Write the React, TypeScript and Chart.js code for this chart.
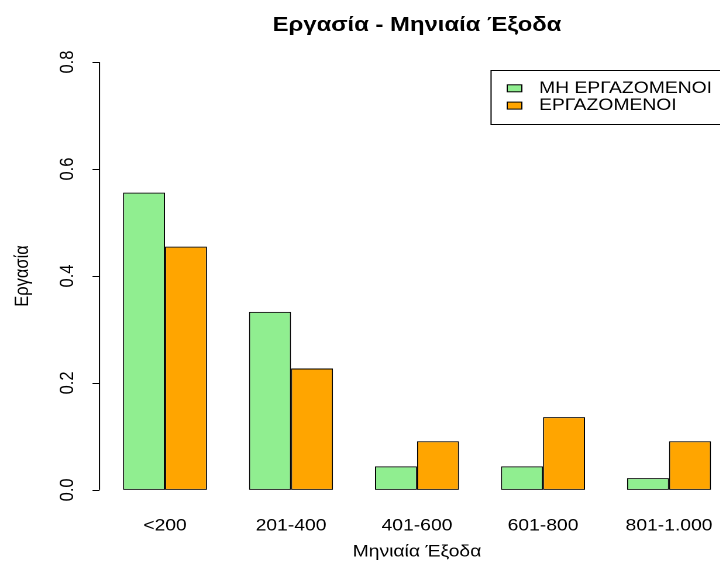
import React, { useEffect, useRef } from "react";
import { Chart, registerables } from "chart.js";

Chart.register(...registerables);

const categories = ["<200", "201-400", "401-600", "601-800", "801-1.000"];
const nonWorking = [0.556, 0.333, 0.044, 0.044, 0.022];
const working = [0.455, 0.227, 0.091, 0.136, 0.091];
const seriesLabels = ["ΜΗ ΕΡΓΑΖΟΜΕΝΟΙ", "ΕΡΓΑΖΟΜΕΝΟΙ"];
const yTicks = [0, 0.2, 0.4, 0.6, 0.8];
const chartTitle = "Εργασία - Μηνιαία Έξοδα";
const xTitle = "Μηνιαία Έξοδα";
const yTitle = "Εργασία";

const FONT = "'Liberation Sans', Arial, Helvetica, sans-serif";
const SX = 1.17; // horizontal stretch of the reference
const CW = 640;
const CH = 563;

const axisPlugin = {
  id: "rAxis",
  afterDraw(chart: any) {
    const ctx = chart.ctx;
    const y = chart.scales.y;
    const x0 = chart.chartArea.left - 2.14;
    ctx.save();
    ctx.strokeStyle = "#000";
    ctx.lineWidth = 1;
    ctx.beginPath();
    ctx.moveTo(x0, y.getPixelForValue(yTicks[0]));
    ctx.lineTo(x0, y.getPixelForValue(yTicks[yTicks.length - 1]));
    for (const v of yTicks) {
      const py = Math.round(y.getPixelForValue(v)) + 0.5;
      ctx.moveTo(x0, py);
      ctx.lineTo(x0 - 6, py);
    }
    ctx.stroke();
    ctx.restore();
  },
};

const legendPlugin = {
  id: "rLegend",
  afterDraw(chart: any) {
    const ctx = chart.ctx;
    ctx.save();
    const left = 419.7;
    const top = 70.5;
    const bottom = 124.5;
    const right = 632;
    ctx.strokeStyle = "#000";
    ctx.lineWidth = 1;
    ctx.strokeRect(left, top, right - left, bottom - top);
    ctx.font = `16.5px ${FONT}`;
    ctx.textBaseline = "middle";
    ctx.textAlign = "left";
    chart.data.datasets.forEach((ds: any, i: number) => {
      const cy = 88.3 + i * 17.3;
      ctx.fillStyle = ds.backgroundColor;
      ctx.fillRect(433.5, cy - 3.5, 12.5, 7);
      ctx.strokeRect(433.5, cy - 3.5, 12.5, 7);
      ctx.fillStyle = "#000";
      ctx.fillText(ds.label, 460.7, cy);
    });
    ctx.restore();
  },
};

export default function App() {
  const ref = useRef<HTMLCanvasElement | null>(null);

  useEffect(() => {
    if (!ref.current) return;
    const chart = new Chart(ref.current, {
      type: "bar",
      data: {
        labels: categories,
        datasets: [
          {
            label: seriesLabels[0],
            data: nonWorking,
            backgroundColor: "#90EE90",
            borderColor: "#000",
            borderWidth: 1,
            borderSkipped: false,
            categoryPercentage: 2 / 3,
            barPercentage: 1,
          },
          {
            label: seriesLabels[1],
            data: working,
            backgroundColor: "#FFA500",
            borderColor: "#000",
            borderWidth: 1,
            borderSkipped: false,
            categoryPercentage: 2 / 3,
            barPercentage: 1,
          },
        ],
      },
      options: {
        responsive: false,
        maintainAspectRatio: false,
        animation: false,
        devicePixelRatio: 2,
        layout: { padding: { left: 0, top: 0, right: CW - 625.64, bottom: 0 } },
        plugins: {
          legend: { display: false },
          tooltip: { enabled: false },
          title: {
            display: true,
            text: chartTitle,
            fullSize: false,
            color: "#000",
            font: { family: FONT, size: 20.4, weight: "bold", lineHeight: 1.2 },
            padding: { top: 13, bottom: 7.5 },
          },
        },
        scales: {
          x: {
            type: "category",
            position: "bottom",
            offset: true,
            grid: { display: false },
            border: { display: false },
            ticks: {
              color: "#000",
              font: { family: FONT, size: 16.5, lineHeight: 1.2 },
              padding: 1,
              maxRotation: 0,
              minRotation: 0,
              autoSkip: false,
            },
            title: {
              display: true,
              text: xTitle,
              color: "#000",
              font: { family: FONT, size: 16.5, lineHeight: 1.2 },
              padding: { top: 0, bottom: 1 },
            },
            afterFit: (s: any) => {
              s.height = 56;
            },
          },
          y: {
            type: "linear",
            position: "left",
            min: -0.032,
            max: 0.832,
            grid: { display: false },
            border: { display: false },
            afterBuildTicks: (s: any) => {
              s.ticks = yTicks.map((v) => ({ value: v }));
            },
            ticks: {
              color: "#000",
              font: { family: FONT, size: 16.5, lineHeight: 1.2 },
              minRotation: 90,
              maxRotation: 90,
              crossAlign: "center",
              padding: 9.6,
              autoSkip: false,
              callback: (v: any) => Number(v).toFixed(1),
            },
            title: {
              display: true,
              text: yTitle,
              color: "#000",
              font: { family: FONT, size: 16.5, lineHeight: 1.2 },
              padding: { top: 9.5, bottom: 0 },
            },
            afterFit: (s: any) => {
              s.width = 87.18;
            },
          },
        },
      },
      plugins: [axisPlugin, legendPlugin],
    } as any);
    return () => chart.destroy();
  }, []);

  return (
    <div
      style={{
        position: "fixed",
        left: 0,
        top: 0,
        width: 720,
        height: 563,
        overflow: "hidden",
        background: "#fff",
      }}
    >
      <div
        style={{
          width: CW,
          height: CH,
          transform: `scaleX(${SX})`,
          transformOrigin: "0 0",
        }}
      >
        <canvas ref={ref} width={CW} height={CH} style={{ display: "block" }} />
      </div>
    </div>
  );
}
